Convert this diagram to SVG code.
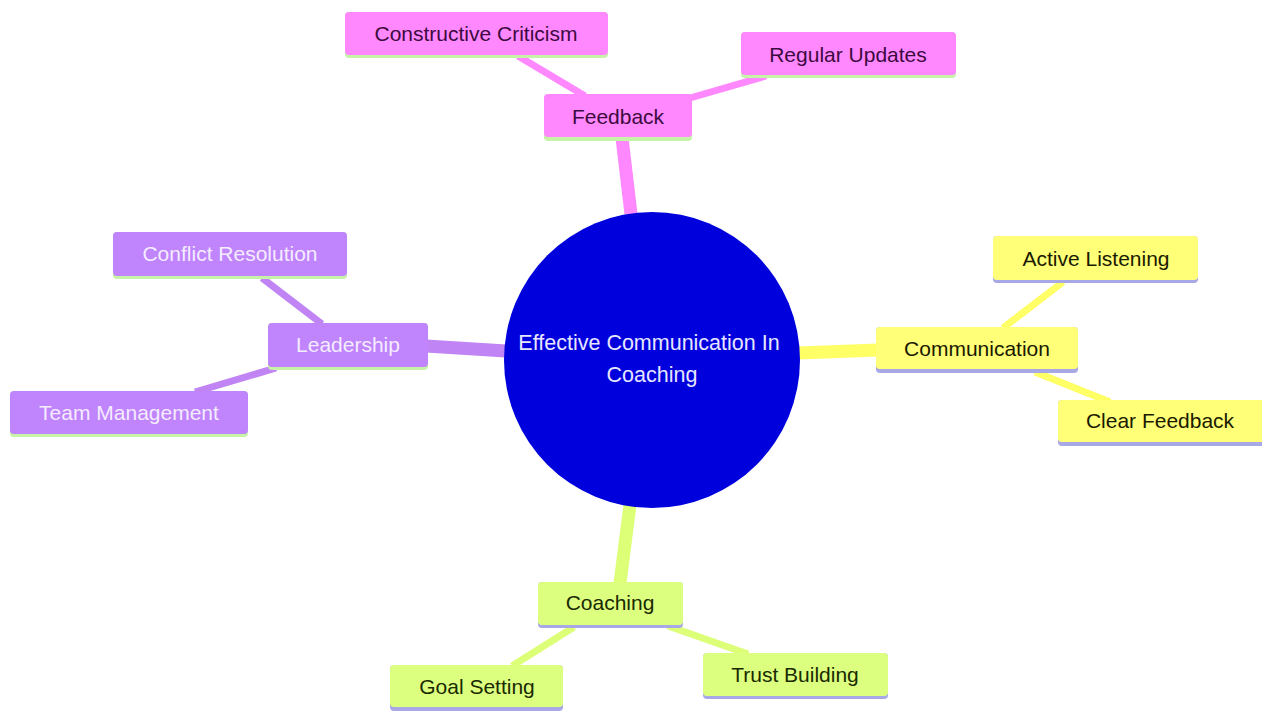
<svg xmlns="http://www.w3.org/2000/svg" width="1262" height="711" viewBox="0 0 1262 711">
<style>
text{font-family:"Liberation Sans",Arial,sans-serif;font-size:21px;text-anchor:middle;dominant-baseline:central}
.pk rect.b{fill:#ff88ff}.pk text{fill:#3d0a40}
.pu rect.b{fill:#c084fc}.pu text{fill:#f4ecff}
.ye rect.b{fill:#ffff78}.ye text{fill:#1a1a00}
.li rect.b{fill:#ddff80}.li text{fill:#1a2a00}
.ug{fill:#c6f3a8}.ul{fill:#a8a8e6}
.e{fill:none;stroke-linecap:butt}
.e1{stroke-width:13}.e2{stroke-width:7}
.epk{stroke:#ff88ff}.epu{stroke:#c084f4}.eye{stroke:#ffff66}.eli{stroke:#ddff77}
</style>
<rect width="1262" height="711" fill="#ffffff"/>
<g id="connectors">
<line class="e e1 epk" x1="631" y1="214" x2="622" y2="138"/>
<line class="e e2 epk" x1="518" y1="56" x2="585" y2="96"/>
<line class="e e2 epk" x1="690" y1="98" x2="766" y2="76"/>
<line class="e e1 epu" x1="506" y1="351" x2="426" y2="346"/>
<line class="e e2 epu" x1="262" y1="278" x2="322" y2="324"/>
<line class="e e2 epu" x1="195" y1="392" x2="276" y2="368"/>
<line class="e e1 eye" x1="798" y1="353" x2="878" y2="350"/>
<line class="e e2 eye" x1="1063" y1="282" x2="1003" y2="328"/>
<line class="e e2 eye" x1="1035" y1="372" x2="1110" y2="402"/>
<line class="e e1 eli" x1="630" y1="505" x2="620" y2="583"/>
<line class="e e2 eli" x1="574" y1="627" x2="512" y2="666"/>
<line class="e e2 eli" x1="668" y1="626" x2="748" y2="654"/>
</g>
<g id="root">
<circle cx="652" cy="360" r="148" fill="#0000dd"/>
<text x="649" y="343" fill="#e6e6ff" style="font-size:21.5px">Effective Communication In</text>
<text x="652" y="375" fill="#e6e6ff" style="font-size:21.5px">Coaching</text>
</g>
<g id="feedback" class="pk">
<rect class="ug" x="544" y="95" width="148" height="46" rx="4"/>
<rect class="b" x="544" y="94" width="148" height="43" rx="4"/>
<text x="618" y="116">Feedback</text>
</g>
<g id="constructive-criticism" class="pk">
<rect class="ug" x="345" y="12" width="263" height="46" rx="4"/>
<rect class="b" x="345" y="12" width="263" height="43" rx="4"/>
<text x="476" y="33">Constructive Criticism</text>
</g>
<g id="regular-updates" class="pk">
<rect class="ug" x="741" y="32" width="215" height="46" rx="4"/>
<rect class="b" x="741" y="32" width="215" height="43" rx="4"/>
<text x="848" y="54">Regular Updates</text>
</g>
<g id="leadership" class="pu">
<rect class="ug" x="268" y="323" width="160" height="47" rx="4"/>
<rect class="b" x="268" y="323" width="160" height="44" rx="4"/>
<text x="348" y="344">Leadership</text>
</g>
<g id="conflict-resolution" class="pu">
<rect class="ug" x="113" y="232" width="234" height="47" rx="4"/>
<rect class="b" x="113" y="232" width="234" height="44" rx="4"/>
<text x="230" y="253">Conflict Resolution</text>
</g>
<g id="team-management" class="pu">
<rect class="ug" x="10" y="391" width="238" height="46" rx="4"/>
<rect class="b" x="10" y="391" width="238" height="43" rx="4"/>
<text x="129" y="412">Team Management</text>
</g>
<g id="communication" class="ye">
<rect class="ul" x="876" y="327" width="202" height="46" rx="4"/>
<rect class="b" x="876" y="327" width="202" height="42" rx="4"/>
<text x="977" y="348">Communication</text>
</g>
<g id="active-listening" class="ye">
<rect class="ul" x="993" y="236" width="205" height="47" rx="4"/>
<rect class="b" x="993" y="236" width="205" height="44" rx="4"/>
<text x="1096" y="258">Active Listening</text>
</g>
<g id="clear-feedback" class="ye">
<rect class="ul" x="1058" y="400" width="208" height="46" rx="4"/>
<rect class="b" x="1058" y="400" width="208" height="42" rx="4"/>
<text x="1160" y="420">Clear Feedback</text>
</g>
<g id="coaching" class="li">
<rect class="ul" x="538" y="582" width="145" height="46" rx="4"/>
<rect class="b" x="538" y="582" width="145" height="43" rx="4"/>
<text x="610" y="602">Coaching</text>
</g>
<g id="goal-setting" class="li">
<rect class="ul" x="390" y="665" width="173" height="46" rx="4"/>
<rect class="b" x="390" y="665" width="173" height="42" rx="4"/>
<text x="477" y="686">Goal Setting</text>
</g>
<g id="trust-building" class="li">
<rect class="ul" x="703" y="653" width="185" height="46" rx="4"/>
<rect class="b" x="703" y="653" width="185" height="43" rx="4"/>
<text x="795" y="674">Trust Building</text>
</g>
</svg>
